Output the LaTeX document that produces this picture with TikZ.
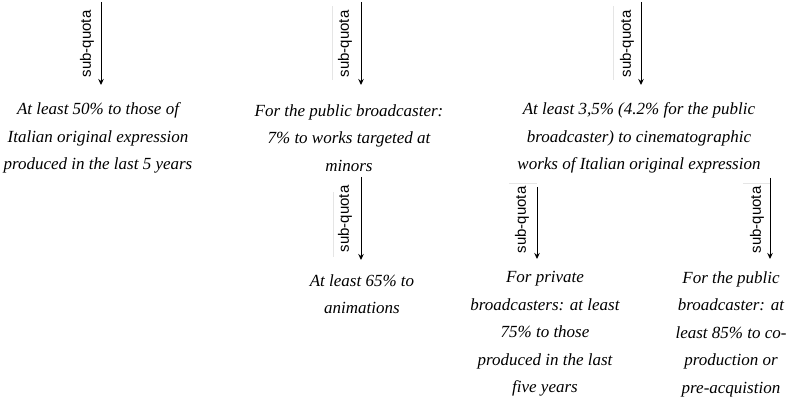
\documentclass[tikz,border=0pt]{standalone}
\usepackage{fontspec}
\setmainfont{Liberation Serif}
\setsansfont{Liberation Sans}
\usetikzlibrary{arrows.meta}
\begin{document}
\begin{tikzpicture}[x=1pt,y=-1pt,
  txt/.style={align=center,font=\fontsize{17}{27.5}\selectfont\itshape,inner sep=0pt},
  arr/.style={-{Stealth[length=6pt,width=5.5pt]},line width=1pt},
  lab/.style={rotate=90,font=\fontsize{15}{16}\selectfont\sffamily,inner sep=0pt},
  faint/.style={draw=gray!20,line width=0.5pt}]
\useasboundingbox (0,0) rectangle (788,398);
% top row
\coordinate (s1) at (101,2);   \coordinate (e1) at (101,85);
\coordinate (s2) at (361,2);   \coordinate (e2) at (361,85);
\coordinate (s3) at (641,2);   \coordinate (e3) at (641,85);
\draw[arr] (s1) -- (e1);
\draw[arr] (s2) -- (e2);
\draw[arr] (s3) -- (e3);
\node[lab] (l1) at (87,44) {sub-quota};
\node[lab] (l2) at (345,44) {sub-quota};
\node[lab] (l3) at (627,44) {sub-quota};
\coordinate (g2a) at (332,6); \coordinate (g2b) at (332,80);
\coordinate (g3a) at (613,6); \coordinate (g3b) at (613,80);
\draw[faint] (g2a) -- (g2b);
\draw[faint] (g3a) -- (g3b);
\node[txt] (t1) at (98,138) {At least 50\% to those of\\Italian original expression\\produced in the last 5 years};
\node[txt] (t2) at (349,138) {For the public broadcaster:\\7\% to works targeted at\\minors};
\node[txt] (t3) at (639,138) {At least 3,5\% (4.2\% for the public\\broadcaster) to cinematographic\\works of Italian original expression};
% bottom row
\coordinate (s4) at (361,177); \coordinate (e4) at (361,260);
\coordinate (s5) at (537,187); \coordinate (e5) at (537,259);
\coordinate (s6) at (770,178); \coordinate (e6) at (770,259);
\draw[arr] (s4) -- (e4);
\draw[arr] (s5) -- (e5);
\draw[arr] (s6) -- (e6);
\node[lab] (l4) at (345,219) {sub-quota};
\node[lab] (l5) at (522,220) {sub-quota};
\node[lab] (l6) at (757,220) {sub-quota};
\coordinate (g4a) at (333,192); \coordinate (g4b) at (333,257);
\coordinate (g5a) at (509,183); \coordinate (g5b) at (537,183);
\coordinate (g6a) at (743,183); \coordinate (g6b) at (770,183);
\draw[faint] (g4a) -- (g4b);
\draw[faint] (g5a) -- (g5b);
\draw[faint] (g6a) -- (g6b);
\node[txt] (t4) at (362,294) {At least 65\% to\\animations};
\node[txt] (t5) at (545,334) {For private\\broadcasters: at least\\75\% to those\\produced in the last\\five years};
\node[txt] (t6) at (731,334) {For the public\\broadcaster: at\\least 85\% to co-\\production or\\pre-acquistion};
\end{tikzpicture}
\end{document}
